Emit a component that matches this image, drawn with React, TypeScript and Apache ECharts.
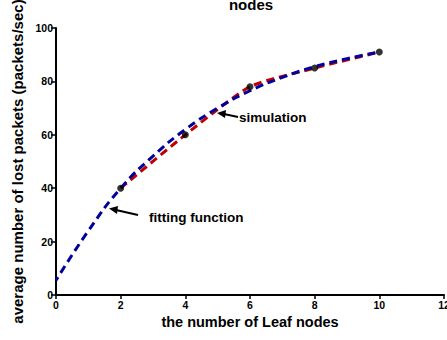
import React, { useEffect, useRef } from "react";
import * as echarts from "echarts";

const xTicks = [0, 2, 4, 6, 8, 10, 12];
const simX = [2, 4, 6, 8, 10];
const simY = [40, 60, 78, 85, 91];
const fitX = [0, 1, 2, 3, 4, 5, 6, 7, 8, 9, 10];
const fitY = [5.5, 24, 40, 52, 62, 70, 76.5, 81.5, 85.5, 88.5, 91];
const titleText = "nodes";
const xName = "the number of Leaf nodes";
const yName = "average number of lost packets (packets/sec)";
const simLabel = "simulation";
const fitLabel = "fitting function";

const FONT = "'Liberation Sans', Arial, Helvetica, sans-serif";

export default function App() {
  const ref = useRef<HTMLDivElement>(null);
  useEffect(() => {
    if (!ref.current) return;
    const chart = echarts.init(ref.current, null, { renderer: "svg" });
    const simData = simX.map((x, i) => [x, simY[i]]);
    const fitData = fitX.map((x, i) => [x, fitY[i]]);
    chart.setOption({
      animation: false,
      backgroundColor: "#ffffff",
      textStyle: { fontFamily: FONT },
      grid: { left: 56, right: 3, top: 28, bottom: 45, containLabel: false, outerBoundsMode: "none" },
      xAxis: {
        type: "value",
        min: xTicks[0],
        max: xTicks[xTicks.length - 1],
        interval: 2,
        name: xName,
        nameLocation: "middle",
        nameGap: 17,
        nameTextStyle: { fontFamily: FONT, fontWeight: "bold", fontSize: 14.5, color: "#000" },
        axisLine: { lineStyle: { color: "#000", width: 2 } },
        axisTick: { length: 4, lineStyle: { color: "#000", width: 1.5 } },
        axisLabel: { fontFamily: FONT, fontWeight: "bold", fontSize: 10.5, color: "#000", margin: 4, showMaxLabel: true },
        splitLine: { show: false },
      },
      yAxis: {
        type: "value",
        min: 0,
        max: 100,
        interval: 20,
        name: yName,
        nameLocation: "middle",
        nameGap: 27,
        nameTextStyle: { fontFamily: FONT, fontWeight: "bold", fontSize: 15, color: "#000" },
        axisLine: { show: true, lineStyle: { color: "#000", width: 2 } },
        axisTick: { show: true, length: 5, lineStyle: { color: "#000", width: 1.5 } },
        axisLabel: { fontFamily: FONT, fontWeight: "bold", fontSize: 10.5, color: "#000", margin: 3 },
        splitLine: { show: false },
      },
      series: [
        {
          type: "line",
          data: simData,
          smooth: 0.2,
          symbol: "none",
          lineStyle: { color: "#c00000", width: 3, type: [8, 5] },
          z: 2,
        },
        {
          type: "line",
          data: fitData,
          smooth: true,
          symbol: "none",
          lineStyle: { color: "#00009c", width: 3, type: [8, 5], dashOffset: 4 },
          z: 3,
        },
        {
          type: "scatter",
          data: simData,
          symbol: "circle",
          symbolSize: 7,
          itemStyle: { color: "#000" },
          z: 4,
        },
      ],
      graphic: [
        {
          type: "text",
          x: 251,
          y: 12,
          style: { text: titleText, font: `bold 15px ${FONT}`, fill: "#000", textAlign: "center", textVerticalAlign: "bottom" },
        },
        {
          type: "text",
          x: 239,
          y: 117,
          style: { text: simLabel, font: `bold 13.5px ${FONT}`, fill: "#000", textAlign: "left", textVerticalAlign: "middle" },
        },
        {
          type: "line",
          shape: { x1: 238, y1: 117, x2: 224, y2: 114 },
          style: { stroke: "#000", lineWidth: 2 },
        },
        {
          type: "polygon",
          shape: { points: [[217, 113], [226, 110], [225, 118]] },
          style: { fill: "#000" },
        },
        {
          type: "text",
          x: 149,
          y: 217,
          style: { text: fitLabel, font: `bold 13.5px ${FONT}`, fill: "#000", textAlign: "left", textVerticalAlign: "middle" },
        },
        {
          type: "line",
          shape: { x1: 138, y1: 215, x2: 116, y2: 210 },
          style: { stroke: "#000", lineWidth: 2 },
        },
        {
          type: "polygon",
          shape: { points: [[109, 208.5], [118, 206], [117, 214]] },
          style: { fill: "#000" },
        },
      ],
    });
    return () => chart.dispose();
  }, []);
  return (
    <div
      ref={ref}
      style={{ position: "absolute", left: 0, top: 0, width: 447, height: 340 }}
    />
  );
}
